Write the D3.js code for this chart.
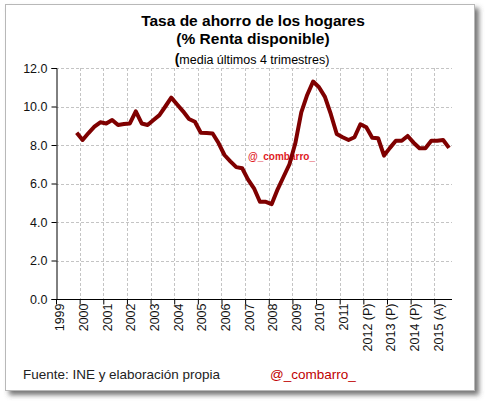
<!DOCTYPE html>
<html>
<head>
<meta charset="utf-8">
<script src="https://cdn.jsdelivr.net/npm/d3@7"></script>
<style>
  body { margin: 0; background: #fff; }
  text { font-family: Arial, "Liberation Sans", sans-serif; }
</style>
</head>
<body>
<div id="chart"></div>
<script>
// quarterly savings rate, 1999Q4 .. 2015Q3 (4-quarter average)
var quarters = [];
for (var yr = 1999; yr <= 2015; yr++) {
  for (var q = 1; q <= 4; q++) quarters.push(yr + "Q" + q);
}
quarters = quarters.slice(3, 3 + 64);
var rates = [8.64,
  8.26, 8.62, 8.95, 9.18,
  9.12, 9.30, 9.04, 9.09,
  9.12, 9.75, 9.12, 9.04,
  9.30, 9.55, 10.0, 10.46,
  10.1, 9.75, 9.35, 9.21,
  8.64, 8.62, 8.60, 8.10,
  7.48, 7.15, 6.85, 6.79,
  6.20, 5.75, 5.05, 5.05,
  4.93, 5.70, 6.35, 7.00,
  8.10, 9.70, 10.6, 11.3,
  11.0, 10.5, 9.60, 8.57,
  8.40, 8.26, 8.40, 9.08,
  8.92, 8.38, 8.35, 7.45,
  7.85, 8.22, 8.22, 8.47,
  8.12, 7.83, 7.83, 8.22,
  8.22, 8.26, 7.85];
var yearLabels = ["1999","2000","2001","2002","2003","2004","2005","2006","2007",
  "2008","2009","2010","2011","2012 (P)","2013 (P)","2014 (P)","2015 (A)"];
var yTicks = [0, 2, 4, 6, 8, 10, 12];

var width = 490, height = 405;
var margin = {top: 68, left: 56, right: 38, bottom: 106};

var svg = d3.select("#chart").append("svg")
  .attr("width", width)
  .attr("height", height);

// frame with shadow
var defs = svg.append("defs");
var f = defs.append("filter").attr("id", "shadow")
  .attr("x", "-5%").attr("y", "-5%").attr("width", "115%").attr("height", "115%");
f.append("feDropShadow").attr("dx", 4).attr("dy", 4).attr("stdDeviation", 2.5)
  .attr("flood-color", "#555").attr("flood-opacity", 0.8);

svg.append("rect")
  .attr("x", 5.5).attr("y", 4.5).attr("width", 469).attr("height", 386)
  .attr("fill", "#fff").attr("stroke", "#b8b8b8")
  .attr("filter", "url(#shadow)");

// scales: quarter position t = year + (q - 0.5)/4
function tPos(s) {
  var y = +s.slice(0, 4), q = +s.slice(5);
  return y + (q - 0.5) / 4;
}
var x = d3.scaleLinear()
  .domain([1999, 2015.75])
  .range([margin.left, width - margin.right]);
var y = d3.scaleLinear()
  .domain([0, 12])
  .range([height - margin.bottom, margin.top]);

var plot = svg.append("g");

// gridlines
plot.selectAll(".hgrid")
  .data(yTicks.filter(function(d){ return d > 0; }))
  .enter().append("line")
  .attr("x1", x(1999)).attr("x2", x(2015.75))
  .attr("y1", function(d){ return Math.round(y(d)) + 0.5; })
  .attr("y2", function(d){ return Math.round(y(d)) + 0.5; })
  .attr("stroke", "#c4c4c4").attr("stroke-dasharray", "3,2");

plot.selectAll(".vgrid")
  .data(d3.range(2000, 2016))
  .enter().append("line")
  .attr("x1", function(d){ return Math.round(x(d)) + 0.5; })
  .attr("x2", function(d){ return Math.round(x(d)) + 0.5; })
  .attr("y1", y(12)).attr("y2", y(0))
  .attr("stroke", "#c4c4c4").attr("stroke-dasharray", "3,2");

// watermark behind the line
svg.append("text")
  .attr("x", 248).attr("y", 160)
  .style("font-size", "10px")
  .style("font-weight", "bold")
  .attr("fill", "#e0201e")
  .text("@_combarro_");

// axes
var yAxis = d3.axisLeft(y).tickValues(yTicks).tickSize(5).tickPadding(4)
  .tickFormat(d3.format(".1f"));
svg.append("g")
  .attr("transform", "translate(" + (Math.round(x(1999)) + 0.5) + ",0)")
  .call(yAxis)
  .call(function(g){
    g.select(".domain").attr("stroke", "#000");
    g.selectAll("text").style("font-size", "12.5px").attr("fill", "#111");
  });

var xAxis = d3.axisBottom(x).tickValues(d3.range(1999, 2016)).tickSize(5)
  .tickFormat(function(d){ return yearLabels[d - 1999]; });
var xg = svg.append("g")
  .attr("transform", "translate(0," + (Math.round(y(0)) + 0.5) + ")")
  .call(xAxis);
xg.select(".domain").attr("d", "M" + x(1999) + ",0H" + x(2015.75));
xg.selectAll("text")
  .style("font-size", "12.5px")
  .attr("fill", "#111")
  .attr("text-anchor", "end")
  .attr("transform", "rotate(-90)")
  .attr("x", -4)
  .attr("y", 3.5)
  .attr("dy", "0.35em");

// line
var line = d3.line()
  .x(function(d, i){ return x(tPos(quarters[i])); })
  .y(function(d){ return y(d); });
svg.append("path")
  .datum(rates)
  .attr("d", line)
  .attr("fill", "none")
  .attr("stroke", "#7f0000")
  .attr("stroke-width", 4)
  .attr("stroke-linejoin", "round");

// titles
svg.append("text").attr("x", 253).attr("y", 26)
  .attr("text-anchor", "middle")
  .style("font-size", "15.5px").style("font-weight", "bold")
  .text("Tasa de ahorro de los hogares");
svg.append("text").attr("x", 253).attr("y", 44)
  .attr("text-anchor", "middle")
  .style("font-size", "15.5px").style("font-weight", "bold")
  .text("(% Renta disponible)");
var sub = svg.append("text").attr("x", 252).attr("y", 64)
  .attr("text-anchor", "middle")
  .style("font-size", "12.5px");
sub.append("tspan").style("font-weight", "bold").style("font-size", "14px").text("(");
sub.append("tspan").text("media últimos 4 trimestres)");

// footer
svg.append("text").attr("x", 23).attr("y", 379)
  .style("font-size", "13.5px").attr("fill", "#222")
  .attr("textLength", 197).attr("lengthAdjust", "spacingAndGlyphs")
  .text("Fuente: INE y elaboración propia");
svg.append("text").attr("x", 270).attr("y", 379)
  .style("font-size", "13.5px").attr("fill", "#c00000")
  .text("@_combarro_");
</script>
</body>
</html>
